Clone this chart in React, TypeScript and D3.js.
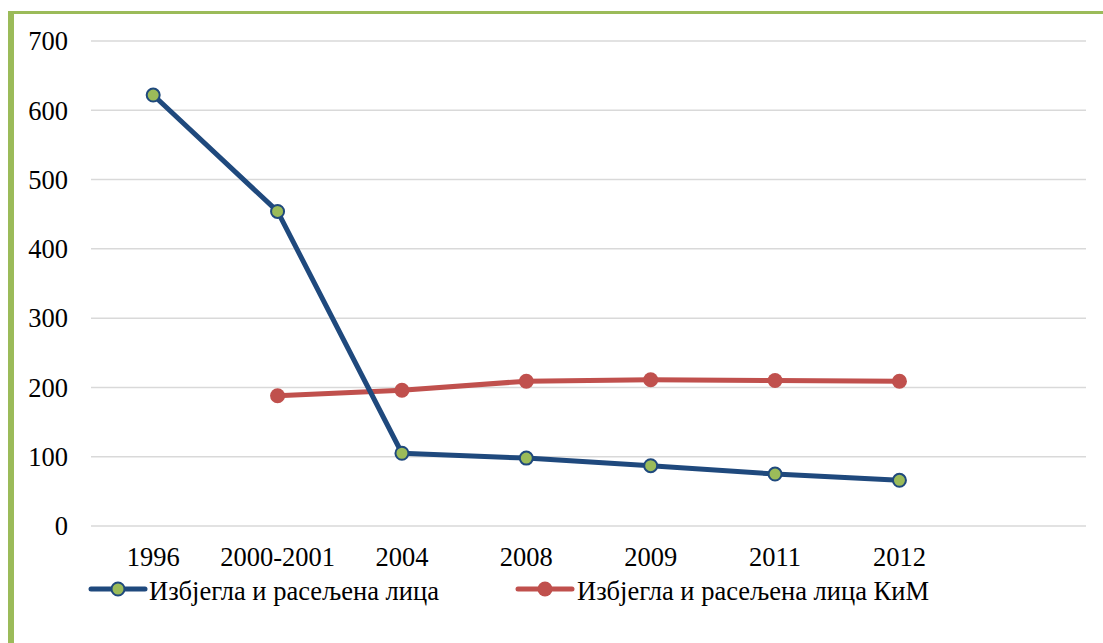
import React from "react";
import * as d3 from "d3";

const categories = ["1996", "2000-2001", "2004", "2008", "2009", "2011", "2012", ""];
const seriesNames = ["Избјегла и расељена лица", "Избјегла и расељена лица КиМ"];
const refugees: (number | null)[] = [622, 454, 105, 98, 87, 75, 66, null];
const refugeesKiM: (number | null)[] = [null, 188, 196, 209, 211, 210, 209, null];
const yTicks = [0, 100, 200, 300, 400, 500, 600, 700];

const W = 1103;
const H = 643;
const FONT = "'Liberation Serif', 'Times New Roman', serif";
const FS = 26.5;
const BLUE = "#1F497D";
const RED = "#C0504D";
const GREEN = "#9BBB59";

export default function App() {
  const x = d3.scaleBand<string>().domain(categories).range([91, 1086]);
  const y = d3.scaleLinear().domain([0, 700]).range([526, 41]);
  const cx = (c: string) => (x(c) ?? 0) + x.bandwidth() / 2;

  const line = d3
    .line<{ c: string; v: number | null }>()
    .defined((d) => d.v !== null)
    .x((d) => cx(d.c))
    .y((d) => y(d.v as number));

  const blueData = categories.map((c, i) => ({ c, v: refugees[i] }));
  const redData = categories.map((c, i) => ({ c, v: refugeesKiM[i] }));

  return (
    <svg
      width={W}
      height={H}
      style={{ position: "fixed", left: 0, top: 0, background: "#fff" }}
      fontFamily={FONT}
    >
      <rect x={0} y={0} width={W} height={H} fill="#fff" />
      {/* border */}
      <rect x={8} y={11} width={6} height={H - 11} fill={GREEN} />
      <rect x={8} y={11} width={W - 8} height={3} fill={GREEN} />
      {/* grid */}
      {yTicks.map((t) => (
        <line key={t} x1={91} x2={1086} y1={y(t)} y2={y(t)} stroke="#D9D9D9" strokeWidth={1.5} />
      ))}
      {yTicks.map((t) => (
        <text key={"l" + t} x={68} y={y(t)} dy="0.35em" textAnchor="end" fontSize={FS} fill="#000">
          {t}
        </text>
      ))}
      {categories.map((c) => (
        <text key={"c" + c} x={cx(c)} y={566} textAnchor="middle" fontSize={FS} fill="#000">
          {c}
        </text>
      ))}
      {/* lines */}
      <path d={line(redData) ?? ""} fill="none" stroke={RED} strokeWidth={5} strokeLinejoin="round" />
      {redData
        .filter((d) => d.v !== null)
        .map((d) => (
          <circle key={"r" + d.c} cx={cx(d.c)} cy={y(d.v as number)} r={7.5} fill={RED} />
        ))}
      <path d={line(blueData) ?? ""} fill="none" stroke={BLUE} strokeWidth={5} strokeLinejoin="round" />
      {blueData
        .filter((d) => d.v !== null)
        .map((d) => (
          <circle key={"b" + d.c} cx={cx(d.c)} cy={y(d.v as number)} r={6.5} fill={GREEN} stroke={BLUE} strokeWidth={2} />
        ))}
      {/* legend */}
      <line x1={91} x2={145} y1={589} y2={589} stroke={BLUE} strokeWidth={5} strokeLinecap="round" />
      <circle cx={118} cy={589} r={6.5} fill={GREEN} stroke={BLUE} strokeWidth={2} />
      <text x={149} y={600} fontSize={FS} fill="#000">{seriesNames[0]}</text>
      <line x1={518} x2={572} y1={589} y2={589} stroke={RED} strokeWidth={5} strokeLinecap="round" />
      <circle cx={545} cy={589} r={7.5} fill={RED} />
      <text x={577} y={600} fontSize={FS} fill="#000">{seriesNames[1]}</text>
    </svg>
  );
}
